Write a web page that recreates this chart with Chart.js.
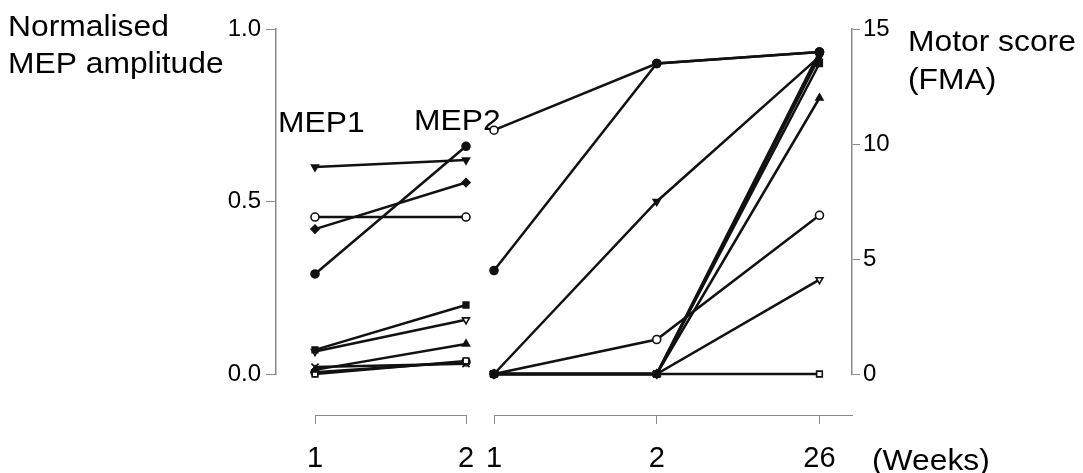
<!DOCTYPE html>
<html>
<head>
<meta charset="utf-8">
<script src="https://cdn.jsdelivr.net/npm/chart.js@4.4.0/dist/chart.umd.min.js"></script>
<style>
  html, body { margin: 0; padding: 0; background: #fff; }
  #wrap { position: relative; width: 1083px; height: 473px; }
</style>
</head>
<body>
<div id="wrap"><canvas id="chart"></canvas></div>
<script>
// x categories for the two panels
const weeksMEP = ['1', '2'];
const weeksFMA = ['1', '2', '26'];
const mepTicks = [0, 0.5, 1.0];
const fmaTicks = [0, 5, 10, 15];

// normalised MEP amplitude, one value per patient
const mepWeek1 = [0.60, 0.29, 0.42, 0.455, 0.07, 0.065, 0.012, 0.0, 0.02, 0.005];
const mepWeek2 = [0.62, 0.66, 0.555, 0.455, 0.20, 0.157, 0.087, 0.038, 0.03, 0.035];

// Fugl-Meyer motor score, one value per patient
const fmaWeek1 = [0, 4.5, 0, 10.6, 0, 0, 0, 0, 0, 0];
const fmaWeek2 = [7.5, 13.5, 0, 13.5, 0, 0, 0, 0, 0, 1.5];
const fmaWeek26 = [13.8, 14.0, 14.0, 14.0, 13.5, 4.1, 12.0, 0, 13.8, 6.9];

// marker per patient
const markers = ['triangle', 'circle', 'rectRot', 'circle', 'rect', 'triangle', 'triangle', 'rect', 'crossRot', 'circle'];
const filled = [true, true, true, false, true, false, true, false, true, false];
const flipped = [true, false, false, false, false, true, false, false, false, false];

const ink = '#111';
const axisGrey = '#8a8a8a';
const family = '"Liberation Sans", Arial, sans-serif';

function lineStyle(i) {
  return {
    borderColor: ink,
    borderWidth: 2.5,
    pointStyle: markers[i],
    pointRotation: flipped[i] ? 180 : 0,
    pointRadius: markers[i] === 'crossRot' ? 5 : 4,
    pointBorderWidth: 1.6,
    pointBackgroundColor: filled[i] ? ink : '#fff',
    pointBorderColor: ink,
    tension: 0,
    clip: false
  };
}

const datasets = [];
mepWeek1.forEach((v, i) => {
  datasets.push({
    ...lineStyle(i),
    label: 'MEP ' + (i + 1),
    xAxisID: 'xMEP',
    yAxisID: 'yMEP',
    data: [v, mepWeek2[i]]
  });
});
fmaWeek1.forEach((v, i) => {
  datasets.push({
    ...lineStyle(i),
    label: 'FMA ' + (i + 1),
    xAxisID: 'xFMA',
    yAxisID: 'yFMA',
    data: [fmaWeek1[i], fmaWeek2[i], fmaWeek26[i]].map((y, j) => ({ x: j, y }))
  });
});

// the bottom axis is broken in two pieces, one per panel
const splitAxis = {
  id: 'splitAxis',
  afterLayout(chart) {
    const axisY = 415;
    const place = (scale, left, right) => {
      scale.left = left;
      scale.right = right;
      scale.width = right - left;
      scale.top = axisY;
      scale.bottom = chart.height;
      scale.height = scale.bottom - scale.top;
      scale.configure();
    };
    place(chart.scales.xMEP, 315, 466);
    place(chart.scales.xFMA, 494, chart.chartArea.right);
  }
};

// free text, slightly widened like the original figure
const textLabels = {
  id: 'textLabels',
  beforeDatasetsDraw(chart) {
    const ctx = chart.ctx;
    const put = (txt, x, y) => {
      ctx.save();
      ctx.translate(x, y);
      ctx.scale(1.06, 1);
      ctx.fillText(txt, 0, 0);
      ctx.restore();
    };
    ctx.save();
    ctx.fillStyle = '#000';
    ctx.textBaseline = 'alphabetic';
    ctx.font = '30px ' + family;
    put('Normalised', 8, 36);
    put('MEP amplitude', 8, 73);
    put('Motor score', 908, 51);
    put('(FMA)', 908, 89);
    put('MEP1', 278, 132);
    put('MEP2', 414, 130);
    put('(Weeks)', 872, 470);
    ctx.restore();
  }
};

const tickFont = { family, size: 29 };

new Chart(document.getElementById('chart'), {
  type: 'line',
  data: { datasets },
  plugins: [splitAxis, textLabels],
  options: {
    responsive: true,
    maintainAspectRatio: false,
    animation: false,
    layout: { padding: { top: 29, left: 0, right: 0, bottom: 0 } },
    plugins: { legend: { display: false }, tooltip: { enabled: false } },
    scales: {
      xMEP: {
        type: 'category',
        labels: weeksMEP,
        position: 'bottom',
        offset: false,
        grid: { drawOnChartArea: false, tickLength: 9, color: axisGrey, lineWidth: 1 },
        border: { color: axisGrey, width: 1 },
        ticks: { font: tickFont, color: '#000', padding: 18, maxRotation: 0, autoSkip: false },
        afterFit: (s) => { s.height = 99; }
      },
      xFMA: {
        type: 'linear',
        position: 'bottom',
        min: 0,
        max: 2.2,
        grid: { drawOnChartArea: false, tickLength: 9, color: axisGrey, lineWidth: 1 },
        border: { color: axisGrey, width: 1 },
        ticks: {
          font: tickFont, color: '#000', padding: 18, maxRotation: 0, autoSkip: false,
          callback: (v) => weeksFMA[v] ?? ''
        },
        afterBuildTicks: (s) => { s.ticks = weeksFMA.map((w, j) => ({ value: j })); },
        afterFit: (s) => { s.height = 0; }
      },
      yMEP: {
        position: 'left',
        min: 0,
        max: 1,
        afterBuildTicks: (s) => { s.ticks = mepTicks.map((v) => ({ value: v })); },
        grid: { drawOnChartArea: false, tickLength: 10, color: axisGrey, lineWidth: 1 },
        border: { color: axisGrey, width: 1.5 },
        ticks: { font: { family, size: 24 }, color: '#000', padding: 5, callback: (v) => v.toFixed(1) },
        afterFit: (s) => { s.width = 276; }
      },
      yFMA: {
        position: 'right',
        min: 0,
        max: 15,
        afterBuildTicks: (s) => { s.ticks = fmaTicks.map((v) => ({ value: v })); },
        grid: { drawOnChartArea: false, tickLength: 8, color: axisGrey, lineWidth: 1 },
        border: { color: axisGrey, width: 1.5 },
        ticks: { font: { family, size: 24 }, color: '#000', padding: 3 },
        afterFit: (s) => { s.width = 231; }
      }
    }
  }
});
</script>
</body>
</html>
